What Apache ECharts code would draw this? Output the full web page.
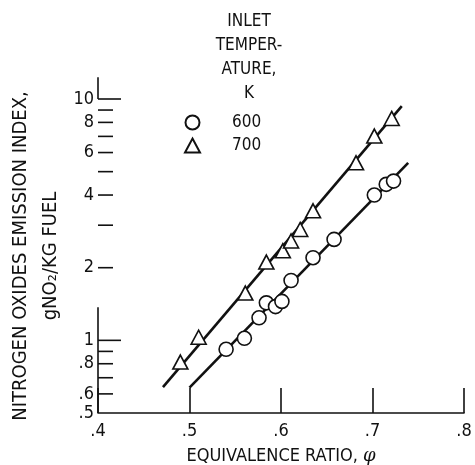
<!DOCTYPE html>
<html>
<head>
<meta charset="utf-8">
<script src="https://cdn.jsdelivr.net/npm/echarts@6/dist/echarts.min.js"></script>
<style>
  html, body { margin: 0; padding: 0; background: #fff; }
  #chart { width: 475px; height: 465px; }
</style>
</head>
<body>
<div id="chart"></div>
<script>
// Nitrogen oxides emission index against equivalence ratio, two inlet temperatures (K)
const phi600 = [0.540, 0.560, 0.576, 0.584, 0.594, 0.601, 0.611, 0.635, 0.658, 0.702, 0.715, 0.723];
const ei600  = [0.918, 1.02, 1.24, 1.43, 1.38, 1.45, 1.77, 2.20, 2.62, 4.00, 4.43, 4.57];
const phi700 = [0.490, 0.510, 0.561, 0.584, 0.602, 0.611, 0.621, 0.635, 0.682, 0.702, 0.721];
const ei700  = [0.813, 1.03, 1.57, 2.11, 2.35, 2.58, 2.88, 3.44, 5.44, 7.02, 8.31];

// Faired straight lines through each data set (end points)
const fit600Phi = [0.500, 0.739];
const fit600Ei  = [0.637, 5.44];
const fit700Phi = [0.471, 0.732];
const fit700Ei  = [0.640, 9.35];

// Axis ticks and labels
const xTickLabels = ['.4', '.5', '.6', '.7', '.8'];
const xTickValues = [0.4, 0.5, 0.6, 0.7, 0.8];
const yLabelValues = [10, 8, 6, 4, 2, 1, 0.8, 0.6, 0.5];
const yLabelTexts  = ['10', '8', '6', '4', '2', '1', '.8', '.6', '.5'];
const yTickValues  = [10, 9, 8, 7, 6, 5, 4, 3, 2, 1, 0.9, 0.8, 0.7, 0.6];
const yLongTicks   = [10, 1];
// Pieces of the vertical axis line that are drawn
const yAxisSpans   = [[0.5, 1.37], [10, 12.3]];

const legendTitle = ['INLET', 'TEMPER-', 'ATURE,', 'K'];
const seriesNames = ['600', '700'];

const FONT = '"Liberation Sans Narrow", "DejaVu Sans Condensed", "Arial Narrow", "Liberation Sans", sans-serif';
const INK = '#111';

const zip = (a, b) => a.map((v, i) => [v, b[i]]);

const chart = echarts.init(document.getElementById('chart'), null, { renderer: 'canvas' });

chart.setOption({
  animation: false,
  backgroundColor: '#fff',
  textStyle: { fontFamily: FONT, color: INK },
  title: {
    text: legendTitle.join('\n'),
    left: 249,
    top: 10,
    padding: 0,
    textAlign: 'center',
    textStyle: { fontFamily: FONT, fontSize: 17, fontWeight: 'normal', color: INK, lineHeight: 24 }
  },
  legend: {
    data: seriesNames,
    orient: 'vertical',
    left: 184,
    top: 114,
    padding: 0,
    itemWidth: 15,
    itemHeight: 14,
    itemGap: 6,
    selectedMode: false,
    textStyle: { fontFamily: FONT, fontSize: 17, color: INK, padding: [0, 0, 0, 27] }
  },
  grid: { left: 98, right: 11, top: 99, bottom: 52, containLabel: false, outerBoundsMode: 'none' },
  xAxis: {
    type: 'value',
    min: 0.4,
    max: 0.8,
    interval: 0.1,
    name: '{a|EQUIVALENCE RATIO, }{b|φ}',
    nameLocation: 'middle',
    nameGap: 34,
    nameTextStyle: {
      rich: {
        a: { fontFamily: FONT, fontSize: 18, color: INK },
        b: { fontFamily: '"DejaVu Serif", serif', fontStyle: 'italic', fontSize: 18, color: INK }
      }
    },
    axisLine: { show: true, lineStyle: { color: INK, width: 1.6 } },
    axisTick: { show: true, inside: true, length: 25, lineStyle: { color: INK, width: 1.6 } },
    axisLabel: {
      margin: 9,
      fontFamily: FONT,
      fontSize: 18,
      color: INK,
      formatter: v => {
        const i = xTickValues.findIndex(t => Math.abs(t - v) < 1e-6);
        return i >= 0 ? xTickLabels[i] : '';
      }
    },
    splitLine: { show: false }
  },
  yAxis: {
    type: 'log',
    logBase: 10,
    min: 0.5,
    max: 10,
    name: 'NITROGEN OXIDES EMISSION INDEX,\ngNO₂/KG FUEL',
    nameLocation: 'middle',
    nameRotate: 90,
    nameGap: 32,
    nameTextStyle: { fontFamily: FONT, fontSize: 20, color: INK, lineHeight: 30 },
    axisLine: { show: false },
    axisTick: { show: false },
    axisLabel: { show: false },
    splitLine: { show: false }
  },
  series: [
    {
      // vertical axis line pieces
      type: 'custom',
      silent: true,
      clip: false,
      data: yAxisSpans.map(s => [0.4, s[0], s[1]]),
      encode: { x: 0, y: [1, 2] },
      renderItem: (params, api) => {
        const a = api.coord([api.value(0), api.value(1)]);
        const b = api.coord([api.value(0), api.value(2)]);
        return {
          type: 'line',
          shape: { x1: a[0], y1: a[1], x2: b[0], y2: b[1] },
          style: { stroke: INK, lineWidth: 1.6 }
        };
      },
      z: 3
    },
    {
      // y tick marks
      type: 'custom',
      silent: true,
      clip: false,
      data: yTickValues.map(v => [0.4, v]),
      encode: { x: 0, y: 1 },
      renderItem: (params, api) => {
        const v = api.value(1);
        const p = api.coord([api.value(0), v]);
        const len = yLongTicks.indexOf(v) >= 0 ? 23 : 15;
        return {
          type: 'line',
          shape: { x1: p[0], y1: p[1], x2: p[0] + len, y2: p[1] },
          style: { stroke: INK, lineWidth: 1.6 }
        };
      },
      z: 3
    },
    {
      // y tick labels
      type: 'custom',
      silent: true,
      clip: false,
      data: yLabelValues.map(v => [0.4, v]),
      encode: { x: 0, y: 1 },
      renderItem: (params, api) => {
        const p = api.coord([api.value(0), api.value(1)]);
        return {
          type: 'text',
          x: p[0] - 4,
          y: p[1],
          style: {
            text: yLabelTexts[params.dataIndex],
            align: 'right',
            verticalAlign: 'middle',
            fontFamily: FONT,
            fontSize: 18,
            fill: INK
          }
        };
      },
      z: 3
    },
    {
      type: 'line',
      name: 'fit600',
      data: zip(fit600Phi, fit600Ei),
      showSymbol: false,
      silent: true,
      lineStyle: { color: INK, width: 2.6 },
      z: 2
    },
    {
      type: 'line',
      name: 'fit700',
      data: zip(fit700Phi, fit700Ei),
      showSymbol: false,
      silent: true,
      lineStyle: { color: INK, width: 2.6 },
      z: 2
    },
    {
      type: 'scatter',
      name: '600',
      data: zip(phi600, ei600),
      symbol: 'circle',
      symbolSize: 14,
      itemStyle: { color: '#fff', borderColor: INK, borderWidth: 1.6, opacity: 1 },
      z: 5
    },
    {
      type: 'scatter',
      name: '700',
      data: zip(phi700, ei700),
      symbol: 'triangle',
      symbolSize: [15, 14],
      itemStyle: { color: '#fff', borderColor: INK, borderWidth: 1.6, opacity: 1 },
      z: 5
    }
  ]
});
</script>
</body>
</html>
